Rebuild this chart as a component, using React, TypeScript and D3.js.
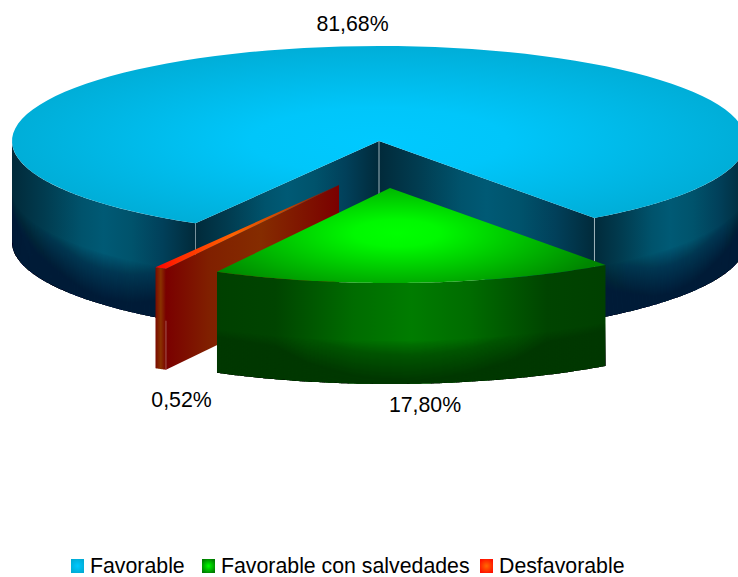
import React from "react";
import * as d3 from "d3";

const categories = ["Favorable", "Favorable con salvedades", "Desfavorable"];
const values = [81.68, 17.8, 0.52];
const valueLabels = ["81,68%", "17,80%", "0,52%"];

const W = 738, H = 577;
const FONT = "'Liberation Sans', Arial, sans-serif";
const cx = 379, cy = 141, rx = 367, ry = 95, depth = 101;
const explode = [[0, 0], [11, 47], [-40, 44]];
const labelPos = [[352.5, 31], [425, 412], [181.5, 407]];
const legendX = [71, 202, 480];

const START = 210;
const arcs = d3.pie<number>().sort(null).startAngle((START * Math.PI) / 180).endAngle(((START + 360) * Math.PI) / 180)(values);

type P = [number, number];
const at = (t: number, o: number[], dy = 0): P => [cx + o[0] + rx * Math.sin(t), cy + o[1] + dy - ry * Math.cos(t)];
const line = d3.line<P>();
const rim = (a: number, b: number, o: number[], dy = 0): P[] =>
  d3.range(0, 101).map((i) => at(a + ((b - a) * i) / 100, o, dy));
const band = (a: number, b: number, o: number[], d0: number, d1: number) =>
  line([...rim(a, b, o, d0), ...rim(a, b, o, d1).reverse()]) + "Z";
const apex = (o: number[], dy = 0): P => [cx + o[0], cy + o[1] + dy];
const quad = (p: P, q: P) => line([p, q, [q[0], q[1] + depth], [p[0], p[1] + depth]]) + "Z";

const Hg = ({ id, x1, x2, stops }: { id: string; x1: number; x2: number; stops: [number, string][] }) => (
  <linearGradient id={id} gradientUnits="userSpaceOnUse" x1={x1} x2={x2} y1={0} y2={0}>
    {stops.map(([o, c], i) => <stop key={i} offset={o} stopColor={c} />)}
  </linearGradient>
);
const Rg = ({ id, x, y, a, b, stops }: { id: string; x: number; y: number; a: number; b: number; stops: [number, string][] }) => (
  <radialGradient id={id} gradientUnits="userSpaceOnUse" cx={0} cy={0} r={1} gradientTransform={`translate(${x} ${y}) scale(${a} ${b})`}>
    {stops.map(([o, c], i) => <stop key={i} offset={o} stopColor={c} />)}
  </radialGradient>
);

const blueWall: [number, string][] = [[0, "#012a3a"], [0.18, "#013c50"], [0.38, "#00536c"], [0.5, "#005a75"], [0.65, "#00536c"], [0.82, "#01405a"], [1, "#012a3a"]];
const greenWall: [number, string][] = [[0, "#004000"], [0.15, "#004400"], [0.35, "#006c00"], [0.5, "#007c00"], [0.65, "#006c00"], [0.85, "#004400"], [1, "#004000"]];
const redWall: [number, string][] = [[0, "#7a0000"], [0.25, "#802000"], [0.55, "#852c00"], [1, "#7a0000"]];

// stacked translucent bands pull a wall toward its dark colour along the lower rim, following the curve
const BANDS = 50;
const Shade = ({ a, b, o, from, to, opacity, color }: { a: number; b: number; o: number[]; from: number; to: number; opacity: number; color: string }) => (
  <g fill={color} fillOpacity={opacity}>
    {d3.range(0, BANDS).map((i) => (
      <path key={i} d={band(a, b, o, from + ((to - from) * i) / BANDS, to)} />
    ))}
  </g>
);

export default function App() {
  const [blue, green, red] = arcs;
  const bs = blue.startAngle, be = blue.endAngle;
  const o0 = explode[0], o1 = explode[1], o2 = explode[2];
  const PI = Math.PI;
  const gs = green.startAngle, ge = green.endAngle;
  const rs = red.startAngle, re = red.endAngle;
  const bL = at(bs, o0), bR = at(be, o0), c0 = apex(o0);
  const gL = at(ge, o1), gR = at(gs, o1);
  const r1 = at(rs, o2), r2 = at(re, o2), c2 = apex(o2);
  const topPath = (a: number, b: number, o: number[]) => line([apex(o), ...rim(a, b, o)]) + "Z";
  return (
    <svg width={W} height={H} viewBox={`0 0 ${W} ${H}`} style={{ position: "absolute", left: 0, top: 0, display: "block", background: "#fff" }}>
      <defs>
        <Hg id="wL" x1={12} x2={bL[0]} stops={blueWall} />
        <Hg id="wR" x1={bR[0]} x2={746} stops={blueWall} />
        <Hg id="cL" x1={bL[0]} x2={c0[0]} stops={blueWall} />
        <Hg id="cR" x1={c0[0]} x2={bR[0]} stops={blueWall} />
        <Hg id="gW" x1={gL[0]} x2={gR[0]} stops={greenWall} />
        <Hg id="rC" x1={r1[0]} x2={c2[0]} stops={redWall} />
        <Hg id="rO" x1={r2[0]} x2={r1[0]} stops={[[0, "#7a0a00"], [0.5, "#8a3200"], [1, "#7a0000"]]} />
        <Hg id="rT" x1={r2[0]} x2={c2[0]} stops={[[0, "#ff0000"], [0.12, "#ff2a00"], [0.42, "#ff6200"], [0.7, "#c84400"], [1, "#7a0800"]]} />
        <Rg id="bT" x={cx} y={cy} a={rx} b={ry} stops={[[0, "#00c9ff"], [0.35, "#00c6fa"], [1, "#00aed8"]]} />
        <Rg id="gT" x={397} y={233} a={215} b={68} stops={[[0, "#00ff00"], [0.2, "#00f800"], [1, "#008600"]]} />
        <Rg id="l0" x={legendX[0] + 6.5} y={566} a={8} b={8} stops={[[0, "#00c9ff"], [1, "#00abd4"]]} />
        <Rg id="l1" x={legendX[1] + 6.5} y={566} a={8} b={8} stops={[[0, "#00ff00"], [1, "#007a00"]]} />
        <Rg id="l2" x={legendX[2] + 6.5} y={566} a={8} b={8} stops={[[0, "#ff6a00"], [1, "#ff1000"]]} />
      </defs>

      {/* Favorable: walls then top */}
      <path d={band(bs, 1.5 * PI, o0, 0, depth)} fill="url(#wL)" />
      <path d={band(PI / 2, be - 2 * PI, o0, 0, depth)} fill="url(#wR)" />
      <Shade a={bs} b={1.5 * PI} o={o0} from={50} to={depth} opacity={0.035} color="#012a3a" />
      <Shade a={PI / 2} b={be - 2 * PI} o={o0} from={50} to={depth} opacity={0.035} color="#012a3a" />
      <path d={quad(bL, c0)} fill="url(#cL)" />
      <path d={quad(c0, bR)} fill="url(#cR)" />
      <g stroke="#9fb4bc" strokeWidth={1}>
        <line x1={c0[0]} x2={c0[0]} y1={c0[1]} y2={c0[1] + depth} />
        <line x1={bL[0]} x2={bL[0]} y1={bL[1]} y2={bL[1] + depth} strokeOpacity={0.6} />
        <line x1={bR[0]} x2={bR[0]} y1={bR[1]} y2={bR[1] + depth} />
      </g>
      <path d={topPath(bs, be, o0)} fill="url(#bT)" />

      {/* Desfavorable */}
      <path d={quad(r1, c2)} fill="url(#rC)" />
      <path d={band(rs, re, o2, 0, depth)} fill="url(#rO)" />
      <line x1={r1[0]} x2={r1[0]} y1={r1[1] + 52} y2={r1[1] + depth} stroke="#c9a79a" strokeWidth={0.5} />
      <path d={topPath(rs, re, o2)} fill="url(#rT)" />

      {/* Favorable con salvedades */}
      <path d={band(gs, ge, o1, 0, depth)} fill="url(#gW)" />
      <Shade a={gs} b={ge} o={o1} from={58} to={depth} opacity={0.035} color="#003f00" />
      <path d={topPath(gs, ge, o1)} fill="url(#gT)" />

      <g fontFamily={FONT} fontSize={21.3} fill="#000" textAnchor="middle">
        {valueLabels.map((t, i) => (
          <text key={t} x={labelPos[i][0]} y={labelPos[i][1]}>{t}</text>
        ))}
      </g>
      <g fontFamily={FONT} fontSize={21.3} fill="#000">
        {categories.map((c, i) => (
          <g key={c}>
            <rect x={legendX[i]} y={559} width={13} height={14} fill={`url(#l${i})`} />
            <text x={legendX[i] + 19} y={573}>{c}</text>
          </g>
        ))}
      </g>
    </svg>
  );
}
